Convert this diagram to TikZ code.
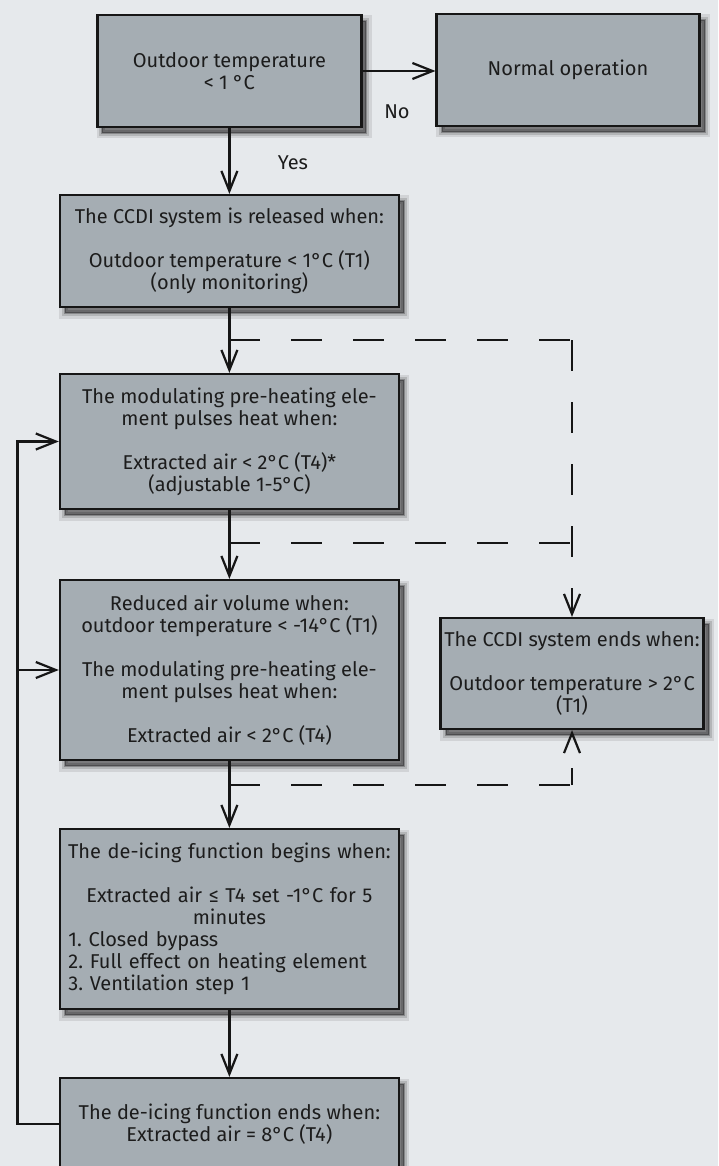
\documentclass[tikz,border=0pt]{standalone}
\usepackage{fontspec}
\setmainfont{Fira Sans}
\usetikzlibrary{arrows.meta,shadows}
\definecolor{bgc}{RGB}{230,233,236}
\definecolor{boxc}{RGB}{165,173,179}
\definecolor{linec}{RGB}{22,22,22}
\definecolor{txtc}{RGB}{28,28,28}
\begin{document}
\frenchspacing
\begin{tikzpicture}[x=1pt,y=-1pt,
  softshadow/.style={
    general shadow={shadow xshift=5pt,shadow yshift=-6pt,fill=black,draw=black,line width=11pt,opacity=0.09},
    general shadow={shadow xshift=5pt,shadow yshift=-6pt,fill=black,draw=black,line width=6pt,opacity=0.14},
    general shadow={shadow xshift=5pt,shadow yshift=-6pt,fill=black,draw=black,line width=2pt,opacity=0.25}},
  fbox/.style={softshadow,draw=linec,line width=2.2pt,fill=boxc,inner sep=0pt,align=center,
    text=txtc,font=\fontsize{20}{22}\selectfont\frenchspacing},
  lbl/.style={text=txtc,font=\fontsize{20}{22}\selectfont,inner sep=0pt},
  conn/.style={draw=linec,line width=2.2pt,-{Straight Barb[length=20pt,width=16pt]}},
  dashline/.style={draw=linec,line width=2.2pt,dash pattern=on 31pt off 31pt},
  dasharrow/.style={dashline,-{Straight Barb[length=20pt,width=16pt]}}]
\fill[bgc] (0,0) rectangle (718,1166);
\useasboundingbox (0,0) rectangle (718,1166);

\node[fbox,minimum width=264pt,minimum height=112pt] (b1) at (229.4,71) {Outdoor temperature\\< 1 °C};
\node[fbox,minimum width=263pt,minimum height=112pt] (b2) at (568,70) {Normal operation};
\node[fbox,minimum width=339pt,minimum height=112pt] (b3) at (229.4,251) {The CCDI system is released when:\\[22pt]Outdoor temperature < 1°C (T1)\\(only monitoring)};
\node[fbox,minimum width=339pt,minimum height=135pt] (b4) at (229.4,441.5) {The modulating pre-heating ele-\\ment pulses heat when:\\[22pt]Extracted air < 2°C (T4)*\\(adjustable 1-5°C)};
\node[fbox,minimum width=339pt,minimum height=180pt] (b5) at (229.4,670) {Reduced air volume when:\\outdoor temperature < -14°C (T1)\\[22pt]The modulating pre-heating ele-\\ment pulses heat when:\\[22pt]Extracted air < 2°C (T4)};
\node[fbox,minimum width=263pt,minimum height=111pt] (b6) at (572,673.5) {The CCDI system ends when:\\[22pt]Outdoor temperature > 2°C\\(T1)};
\node[fbox,minimum width=339pt,minimum height=180pt,text width=339pt] (b7) at (229.4,919) {The de-icing function begins when:\\[22pt]Extracted air ≤ T4 set -1°C for 5\\minutes\par\raggedright\leftskip=8.5pt 1. Closed bypass\\2. Full effect on heating element\\3. Ventilation step 1\par};
\node[fbox,minimum width=339pt,minimum height=92pt] (b8) at (229.4,1124) {The de-icing function ends when:\\Extracted air = 8°C (T4)};

\node[lbl] (no) at (397,111.7) {No};
\node[lbl] (yes) at (293,163) {Yes};

\draw[conn] (b1.east) -- (b1.east -| b2.west);
\draw[conn] (b1.south) -- (b3.north);
\draw[conn] (b3.south) -- (b4.north);
\draw[conn] (b4.south) -- (b5.north);
\draw[conn] (b5.south) -- (b7.north);
\draw[conn] (b7.south) -- (b8.north);

\coordinate (j1) at (229.4,340);
\coordinate (c1) at (572,340);
\coordinate (j2) at (229.4,543);
\coordinate (c2) at (572,543);
\coordinate (j3) at (229.4,785);
\coordinate (c3) at (572,785);
\draw[dashline] (j1) -- (c1);
\draw[dasharrow] (c1) -- (b6.north);
\draw[dashline] (j2) -- (c2);
\draw[dashline] (j3) -- (c3);
\draw[dasharrow,dash phase=14pt] (c3) -- (b6.south);

\coordinate (fb) at (17.4,1124);
\coordinate (fm) at (17.4,670);
\draw[conn] (b8.west) -- (fb) |- (b4.west);
\draw[conn] (fm) -- (b5.west);
\end{tikzpicture}
\end{document}
